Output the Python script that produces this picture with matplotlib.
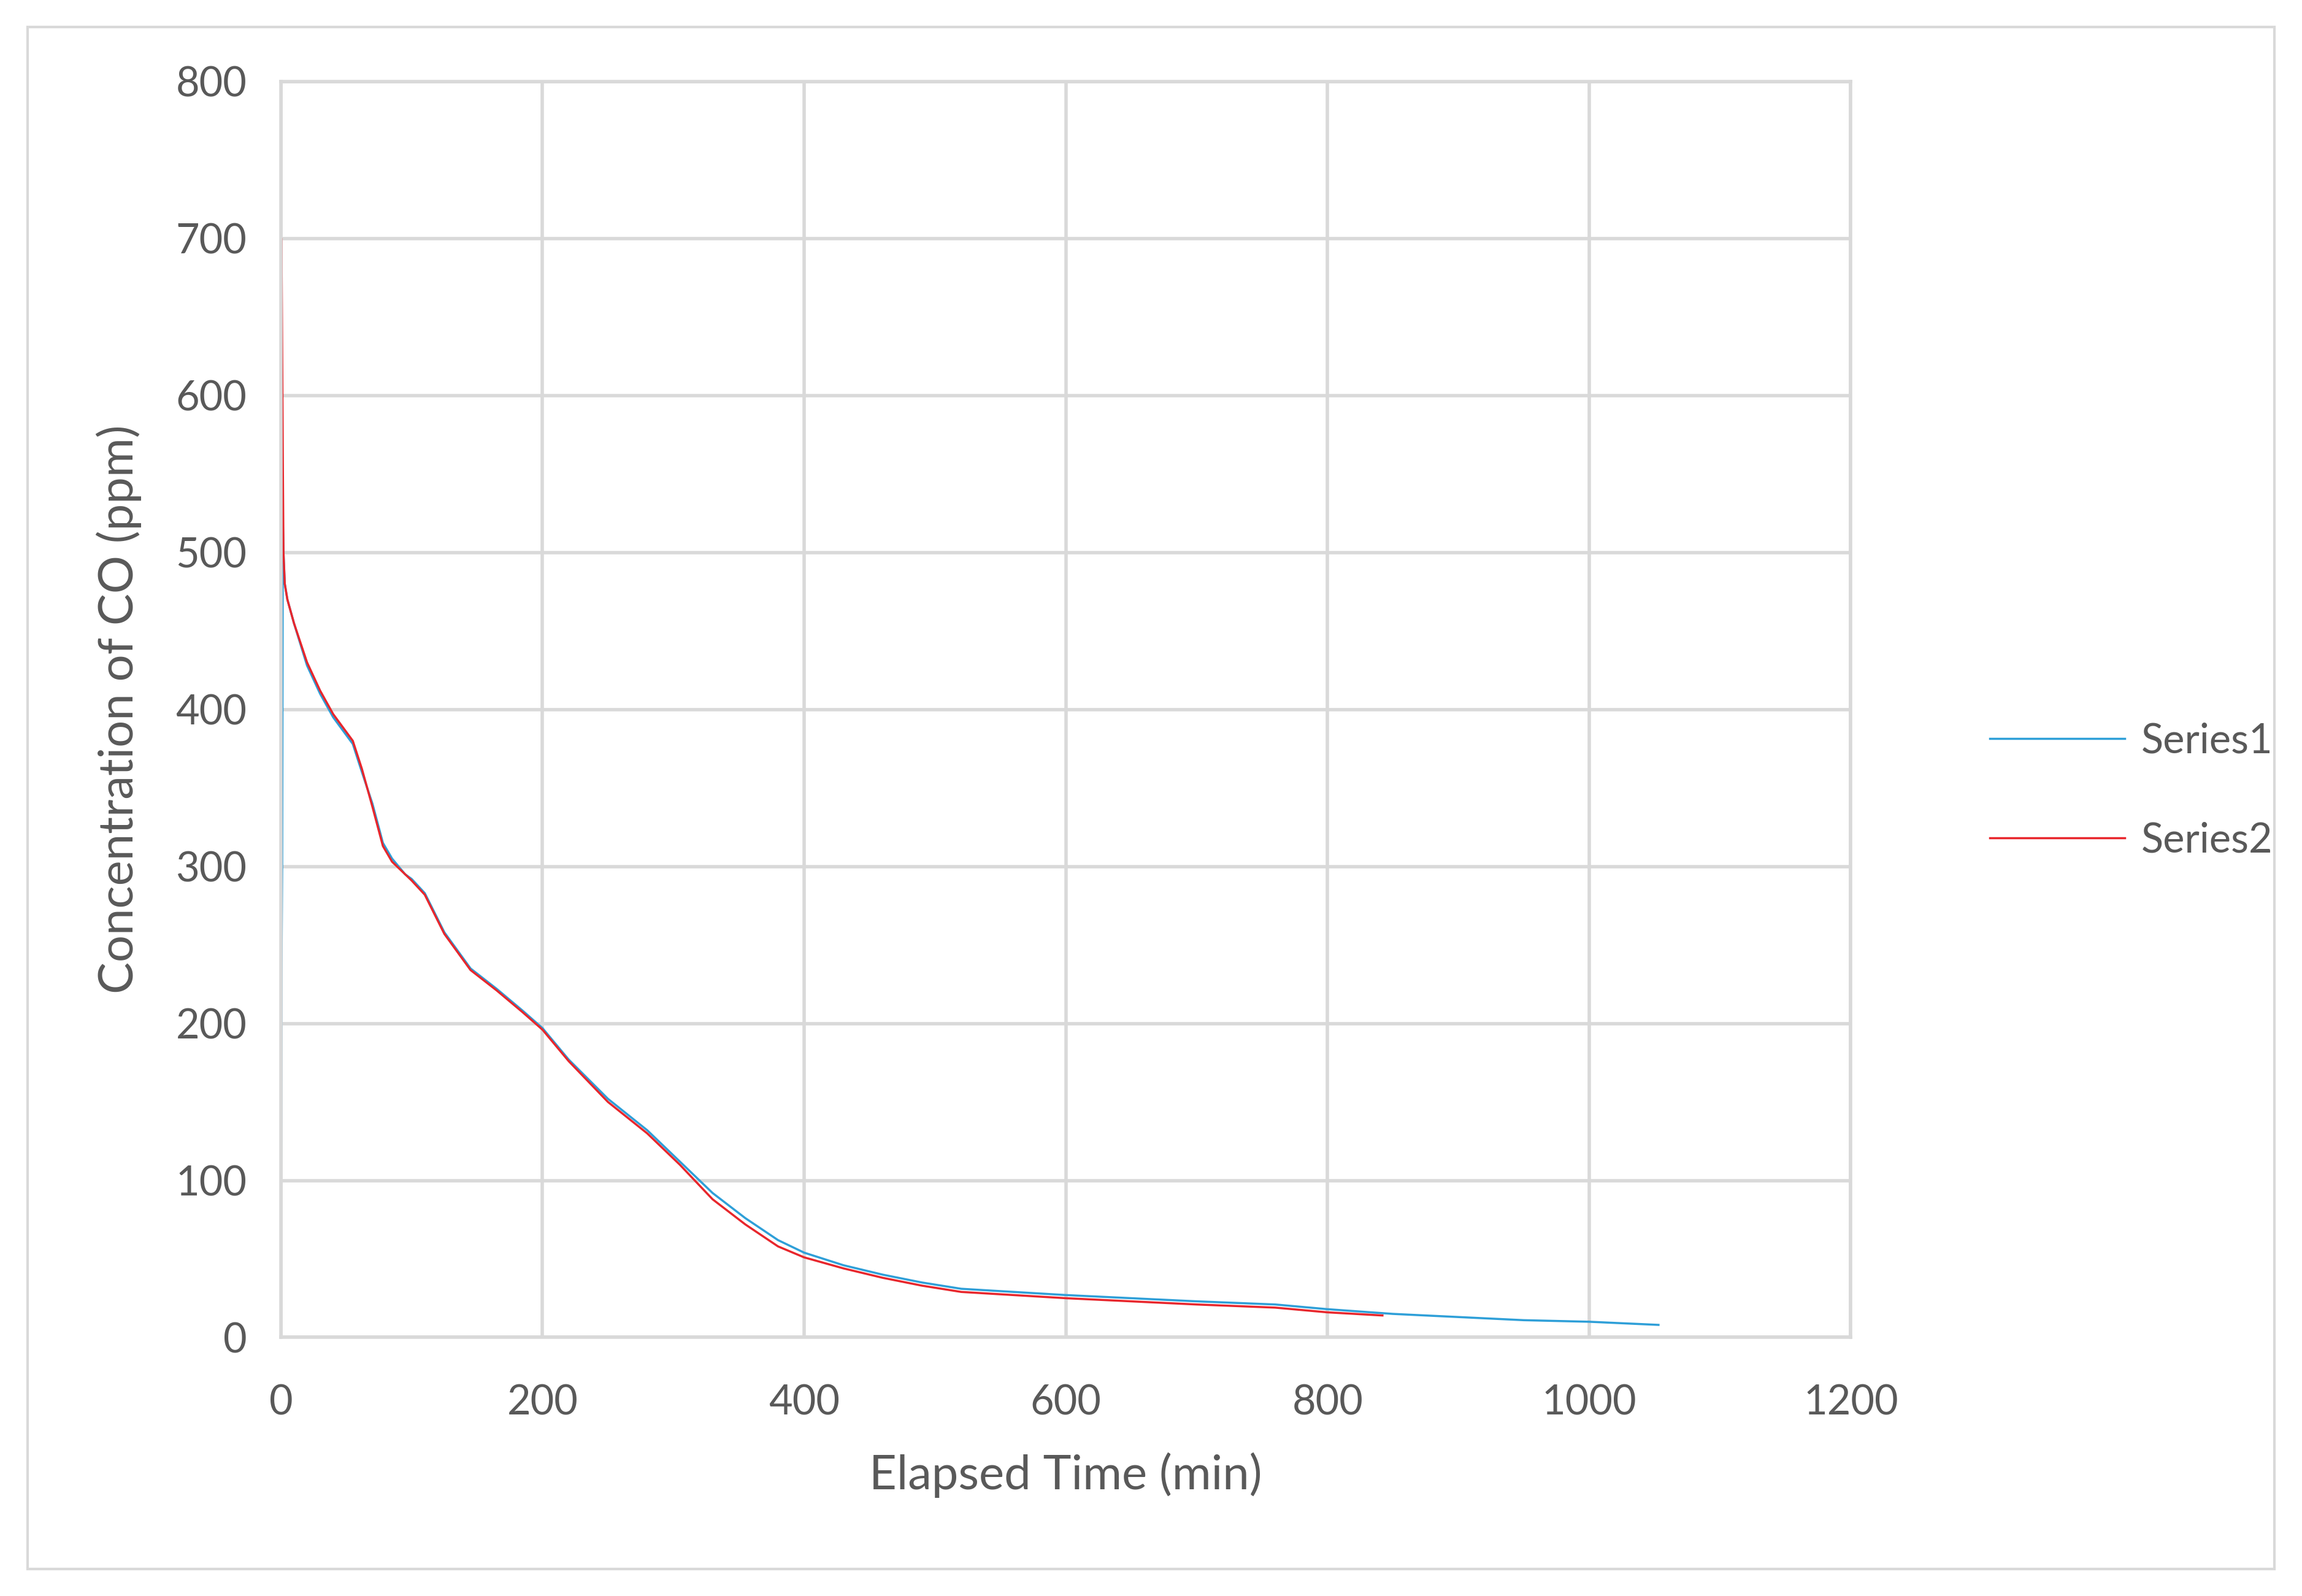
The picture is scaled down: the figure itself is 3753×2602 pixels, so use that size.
import matplotlib
matplotlib.use("Agg")
import matplotlib.pyplot as plt
import matplotlib.patches as mpatches

plt.rcParams['font.family'] = ['Lato', 'DejaVu Sans']

# Series1 (blue)
t1 = [0, 0.5, 1, 1.5, 2, 3, 5, 10, 20, 30, 40, 55, 62, 70, 78, 85, 95, 100, 110, 125,
      145, 165, 185, 200, 220, 250, 280, 305, 330, 355, 380, 400, 430, 460, 490, 520,
      560, 600, 650, 700, 760, 800, 850, 900, 950, 1000, 1053]
c1 = [25, 230, 300, 520, 500, 480, 470, 455, 428, 410, 395, 378, 360, 340, 315, 305, 295, 292, 283, 258,
      235, 222, 208, 197, 177, 152, 132, 112, 92, 76, 62, 54, 46, 40, 35, 31,
      29, 27, 25, 23, 21, 18, 15, 13, 11, 10, 8]

# Series2 (red)
t2 = [0, 0.5, 1, 1.5, 2, 3, 5, 10, 20, 30, 40, 55, 62, 70, 78, 85, 95, 100, 110, 125,
      145, 165, 185, 200, 220, 250, 280, 305, 330, 355, 380, 400, 430, 460, 490, 520,
      560, 600, 650, 700, 760, 800, 842]
c2 = [520, 700, 630, 560, 500, 480, 470, 455, 430, 412, 397, 380, 362, 338, 313, 303, 295, 291, 282, 257,
      234, 221, 207, 196, 176, 150, 130, 110, 88, 72, 58, 51, 44, 38, 33, 29,
      27, 25, 23, 21, 19, 16, 14]

fig = plt.figure(figsize=(37.53, 26.02), dpi=100)
fig.patches.append(mpatches.Rectangle((0.012, 0.017), 0.976, 0.966, transform=fig.transFigure,
                                      fill=False, edgecolor='#d9d9d9', lw=3))
ax = fig.add_axes([0.122, 0.162, 0.682, 0.787])

ax.plot(t1, c1, color='#2e9fd8', lw=2.5, label='Series1')
ax.plot(t2, c2, color='#e8262c', lw=2.5, label='Series2')

ax.set_xlim(0, 1200)
ax.set_ylim(0, 800)
ax.set_xticks(range(0, 1201, 200))
ax.set_yticks(range(0, 801, 100))
ax.grid(True, color='#d9d9d9', lw=4)
ax.set_axisbelow(True)
for s in ax.spines.values():
    s.set_color('#d9d9d9')
    s.set_linewidth(4)
ax.tick_params(axis='x', length=0, pad=55, labelsize=48, labelcolor='#595959')
ax.tick_params(axis='y', length=0, pad=40, labelsize=48, labelcolor='#595959')
ax.set_xlabel('Elapsed Time (min)', fontsize=56, color='#595959', labelpad=35)
ax.set_ylabel('Concentration of CO (ppm)', fontsize=56, color='#595959', labelpad=40)

leg = ax.legend(loc='center left', bbox_to_anchor=(1.065, 0.435), frameon=False,
                fontsize=48, labelcolor='#595959', handlelength=3.3, handletextpad=0.4,
                labelspacing=1.5)

fig.savefig('out.png', dpi=100)
